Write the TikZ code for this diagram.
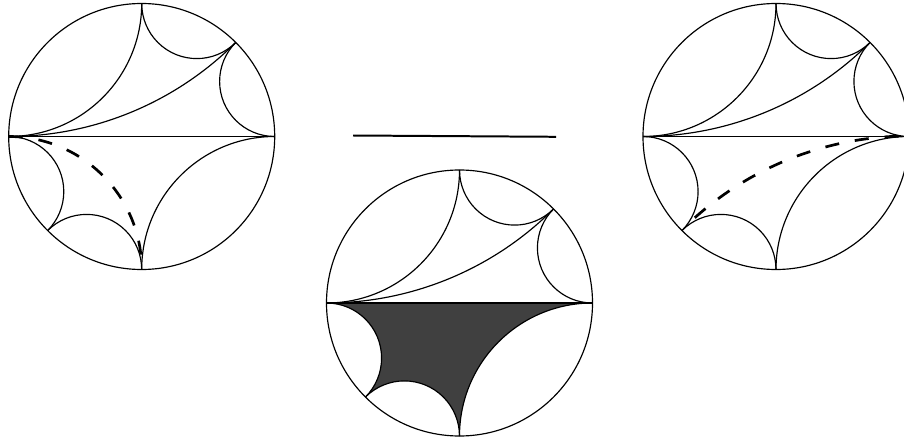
\documentclass[tikz,border=0pt]{standalone}
\usetikzlibrary{calc}
\newcommand\geod[3][]{\draw[#1] (#2:1) arc[start angle={#2-90}, end angle={#3-270}, radius={tan((#3-#2)/2)}];}
\newcommand\tessel{%
  \draw (0,0) circle[radius=1];
  \draw (180:1) -- (0:1);
  \geod{90}{180}
  \geod{45}{90}
  \geod{45}{180}
  \geod{0}{45}
  \geod{-90}{0}
  \geod{-135}{-90}
  \geod{180}{225}
}
\tikzset{
  geo/.style={line width=1pt, line join=round},
  dashgeo/.style={line width=2.3pt, dash pattern=on 12pt off 13.6pt},
  shade/.style={fill=black!75},
}
\begin{document}
\begin{tikzpicture}[x=0.03cm, y=0.03cm]
\useasboundingbox (0,0) rectangle (904,441);
\clip (0,0) rectangle (904,441);
% left disk
\begin{scope}[shift={(141.7,304.5)}, scale=133, geo]
  \tessel
  \geod[dashgeo]{180}{270}
\end{scope}
% horizontal bar
\coordinate (barL) at (353,305.5);
\coordinate (barR) at (556,304.2);
\draw[line width=1.7pt] (barL) -- (barR);
% middle disk
\begin{scope}[shift={(459.5,138)}, scale=133, geo]
  \fill[shade] (180:1) -- (0:1)
     arc[start angle=-270, end angle=-180, radius=1]
     arc[start angle=-360, end angle=-225, radius={tan(22.5)}]
     arc[start angle=-45, end angle=90, radius={tan(22.5)}] -- cycle;
  \tessel
\end{scope}
% right disk
\begin{scope}[shift={(776,304.5)}, scale=133, geo]
  \tessel
  \coordinate (rc) at ({-67.5}:{1/cos(67.5)});
  \draw[dashgeo] ($(rc)+({-228.2}:{tan(67.5)})$)
     arc[start angle=-228.2, end angle=-270, radius={tan(67.5)}];
\end{scope}
\end{tikzpicture}
\end{document}
